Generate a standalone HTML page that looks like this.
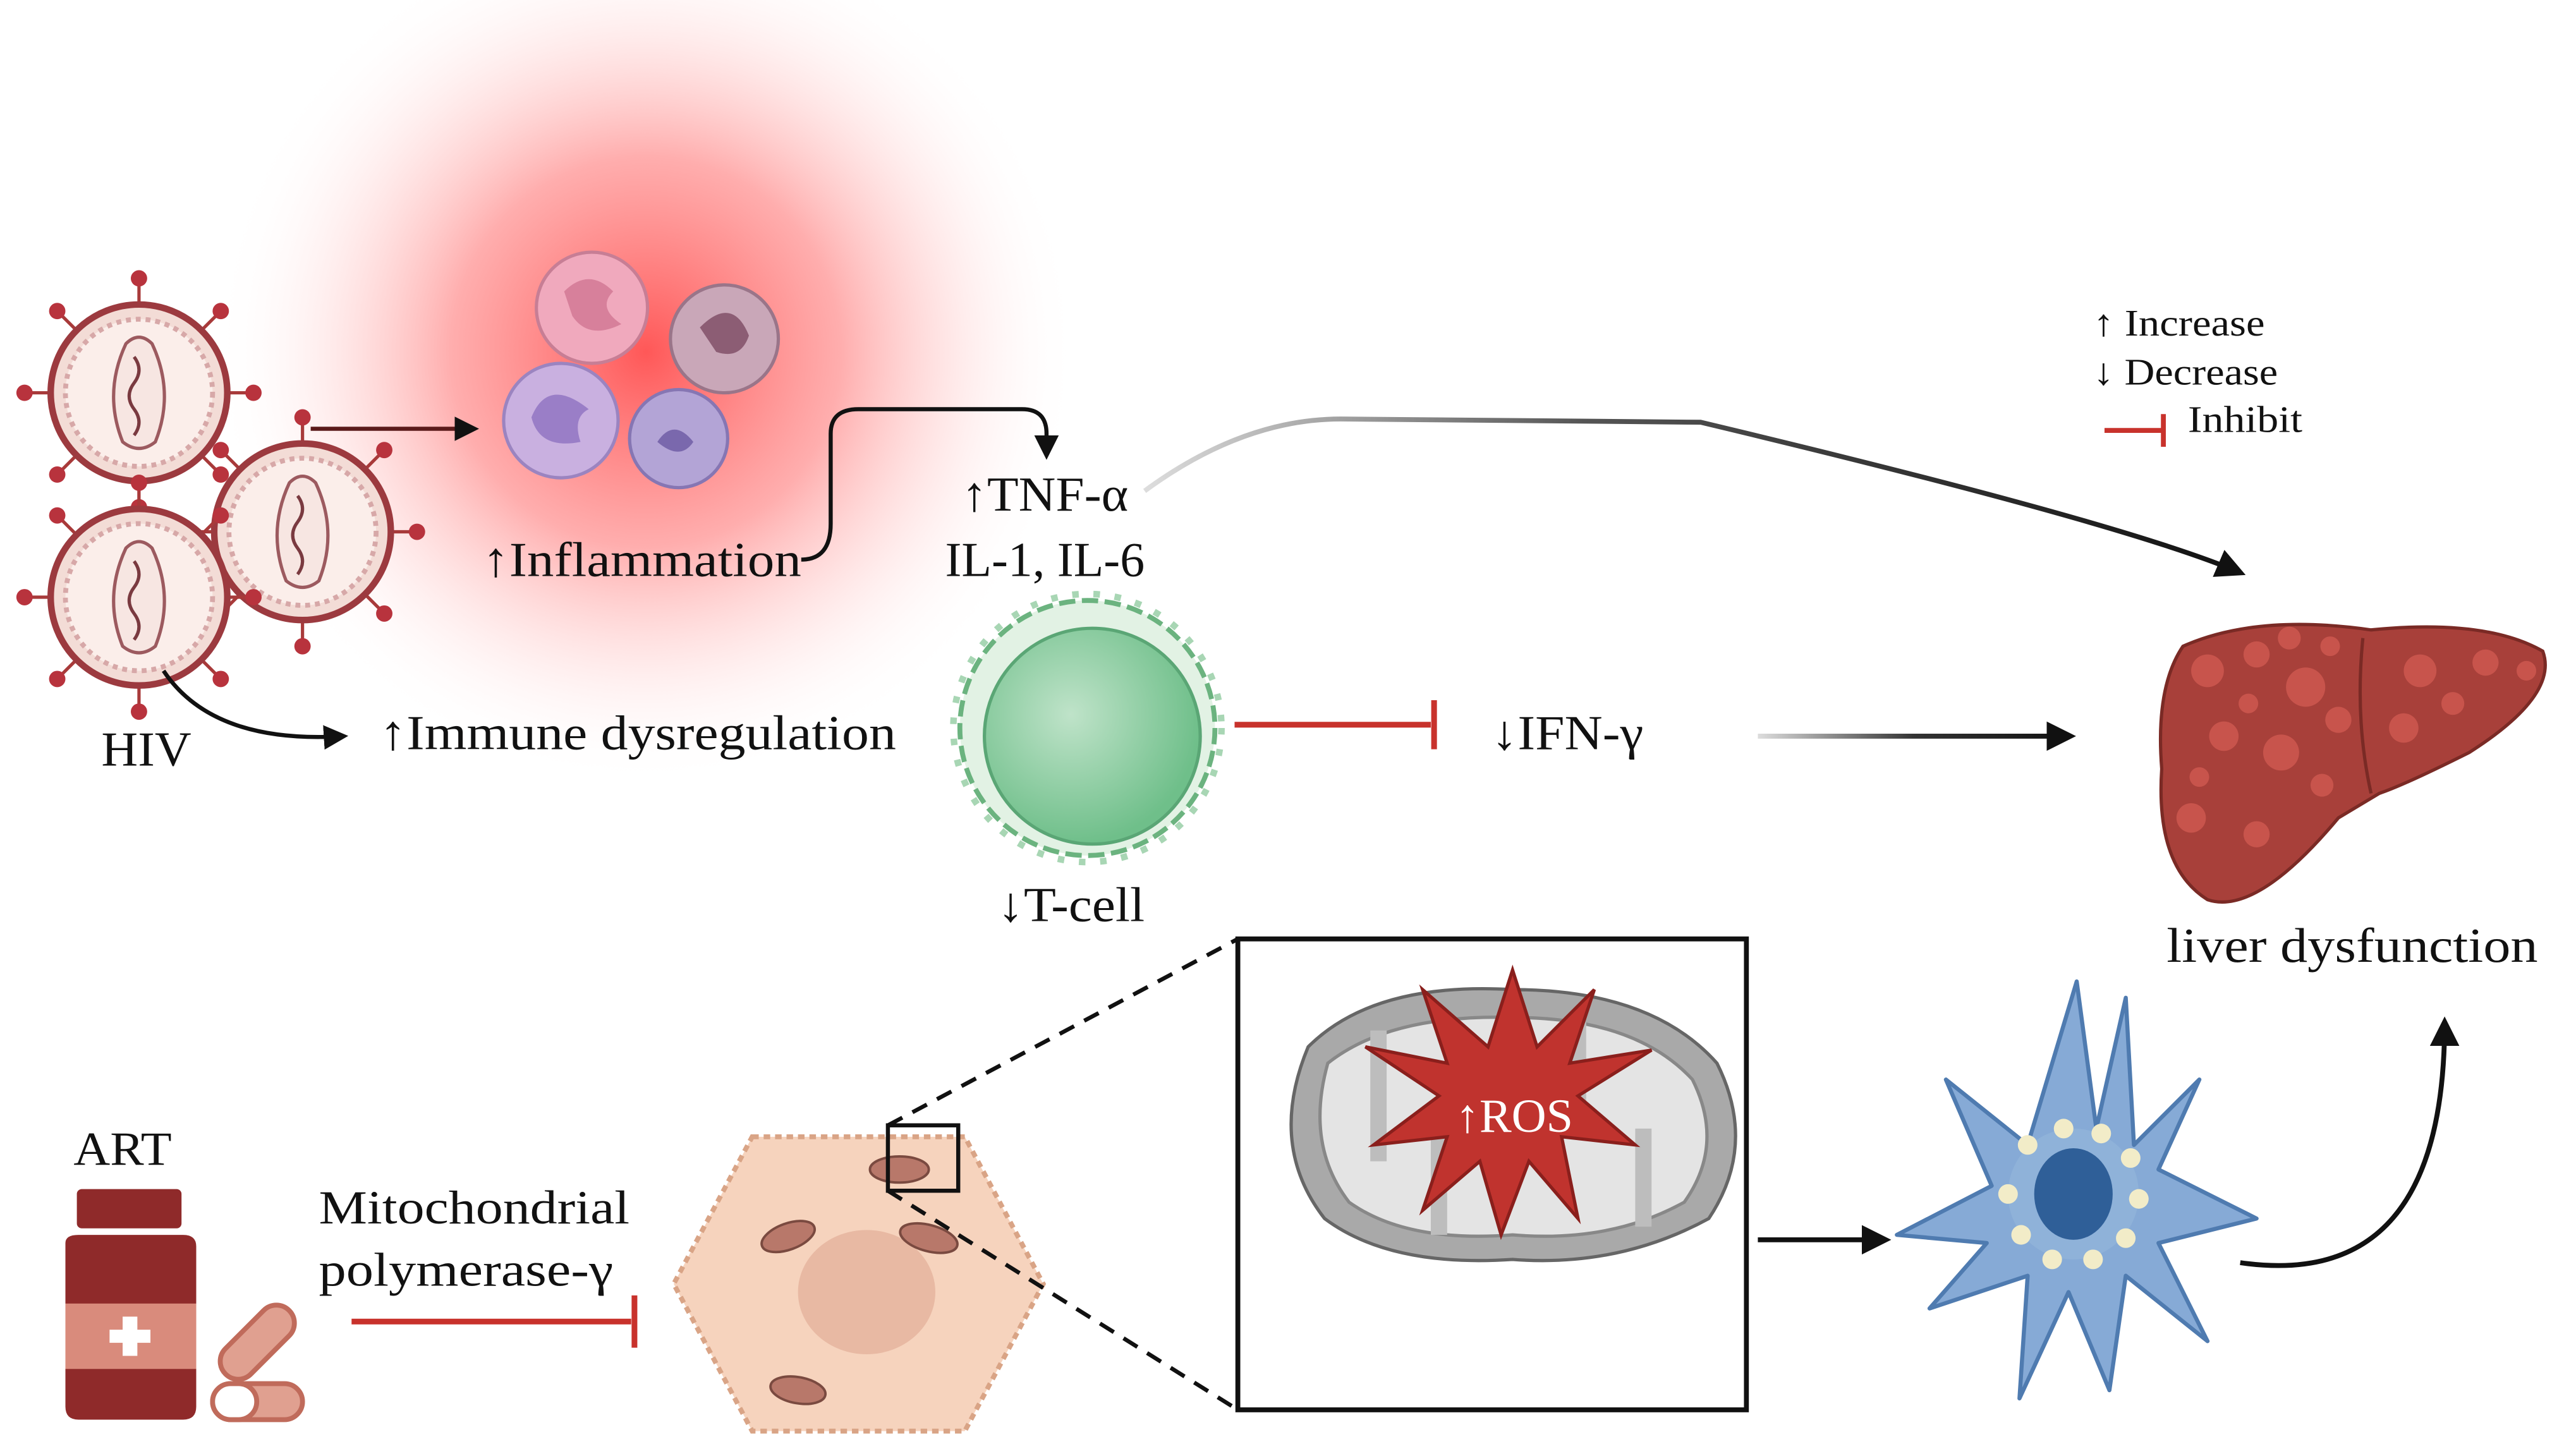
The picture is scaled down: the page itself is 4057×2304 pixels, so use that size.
<!DOCTYPE html>
<html><head><meta charset="utf-8"><style>
html,body{margin:0;padding:0;background:#fff;}
svg{display:block;}
text{font-family:"Liberation Serif",serif;fill:#111;}
</style></head><body>
<svg width="4057" height="2304" viewBox="0 0 1568 890" xmlns="http://www.w3.org/2000/svg">
<defs>
<radialGradient id="glow" cx="0.5" cy="0.5" r="0.5">
<stop offset="0" stop-color="#ff3a3a" stop-opacity="0.85"/>
<stop offset="0.45" stop-color="#ff6b6b" stop-opacity="0.55"/>
<stop offset="1" stop-color="#ffffff" stop-opacity="0"/>
</radialGradient>
<linearGradient id="g1" x1="0" x2="1" y1="0" y2="0">
<stop offset="0" stop-color="#ddd"/><stop offset="0.4" stop-color="#555"/><stop offset="1" stop-color="#111"/>
</linearGradient>
<linearGradient id="g2" gradientUnits="userSpaceOnUse" x1="1075" y1="0" x2="1266" y2="0"><stop offset="0" stop-color="#ddd"/><stop offset="0.5" stop-color="#333"/><stop offset="1" stop-color="#111"/></linearGradient>
<radialGradient id="tg" cx="0.4" cy="0.4" r="0.6"><stop offset="0" stop-color="#bfe3c9"/><stop offset="1" stop-color="#6fbf8a"/></radialGradient>
<marker id="ah" viewBox="0 0 10 10" refX="8" refY="5" markerWidth="6" markerHeight="6" orient="auto"><path d="M0,0 L10,5 L0,10 z" fill="#111"/></marker>
<g id="virus">
 <g stroke="#a83a3a" stroke-width="2">
  <line x1="0" y1="-52" x2="0" y2="-68"/><line x1="0" y1="52" x2="0" y2="68"/>
  <line x1="-52" y1="0" x2="-68" y2="0"/><line x1="52" y1="0" x2="68" y2="0"/>
  <line x1="37" y1="37" x2="48" y2="48"/><line x1="-37" y1="37" x2="-48" y2="48"/>
  <line x1="37" y1="-37" x2="48" y2="-48"/><line x1="-37" y1="-37" x2="-48" y2="-48"/>
 </g>
 <g fill="#b8333d">
  <circle cx="0" cy="-70" r="5"/><circle cx="0" cy="70" r="5"/><circle cx="-70" cy="0" r="5"/><circle cx="70" cy="0" r="5"/>
  <circle cx="50" cy="50" r="5"/><circle cx="-50" cy="50" r="5"/><circle cx="50" cy="-50" r="5"/><circle cx="-50" cy="-50" r="5"/>
 </g>
 <circle r="54" fill="#f3dcd6" stroke="#9c3a3f" stroke-width="4"/>
 <circle r="45" fill="#fbeeea" stroke="#d7a8a8" stroke-width="3" stroke-dasharray="3 3"/>
 <path d="M-8,-30 Q-22,0 -10,30 Q0,38 10,30 Q22,0 8,-30 Q0,-38 -8,-30z" fill="#f7e6e2" stroke="#9c5a5f" stroke-width="2"/>
 <path d="M-3,-22 q6,8 0,16 q-6,8 0,16 q6,8 0,16" fill="none" stroke="#7a3a40" stroke-width="2"/>
</g>
</defs>

<circle cx="395" cy="215" r="265" fill="url(#glow)"/>

<!-- inflammatory cells -->
<circle cx="362" cy="188" r="34" fill="#f0a9bd" stroke="#c77e95" stroke-width="2"/>
<path d="M345,178 q15,-15 30,0 q-10,10 5,20 q-20,10 -30,-5z" fill="#d7809b"/>
<circle cx="443" cy="207" r="33" fill="#c9a7b8" stroke="#9a7589" stroke-width="2"/>
<path d="M428,200 q20,-20 30,5 q-5,15 -20,10z" fill="#8c5d74"/>
<circle cx="343" cy="257" r="35" fill="#c9b0e0" stroke="#9b84c0" stroke-width="2"/>
<path d="M325,255 q10,-25 35,-5 q-10,5 -5,20 q-25,5 -30,-15z" fill="#9a7ec7"/>
<circle cx="415" cy="268" r="30" fill="#b3a4d6" stroke="#8676b3" stroke-width="2"/>
<path d="M402,270 q10,-15 22,0 q-8,12 -22,0z" fill="#7a68ad"/>

<!-- viruses -->
<use href="#virus" x="85" y="240"/>
<use href="#virus" x="185" y="325"/>
<use href="#virus" x="85" y="365"/>

<line x1="190" y1="262" x2="290" y2="262" stroke="#5a1a1a" stroke-width="2.5" marker-end="url(#ah)"/>
<path d="M100,410 Q130,455 210,450" fill="none" stroke="#111" stroke-width="2.5" marker-end="url(#ah)"/>

<text x="295" y="352" font-size="30" textLength="195" lengthAdjust="spacingAndGlyphs">↑Inflammation</text>
<path d="M490,342 Q508,342 508,320 L508,265 Q508,250 525,250 L625,250 Q640,250 640,265 L640,278" fill="none" stroke="#111" stroke-width="2.5" marker-end="url(#ah)"/>
<text x="588" y="312" font-size="30" textLength="102" lengthAdjust="spacingAndGlyphs">↑TNF-α</text>
<text x="578" y="352" font-size="30" textLength="122" lengthAdjust="spacingAndGlyphs">IL-1, IL-6</text>
<path d="M700,300 Q760,256 820,256 L1040,258 Q1300,320 1370,350" fill="none" stroke="url(#g1)" stroke-width="3" marker-end="url(#ah)"/>

<text x="1280" y="205" font-size="23" textLength="105" lengthAdjust="spacingAndGlyphs">↑ Increase</text>
<text x="1280" y="235" font-size="23" textLength="113" lengthAdjust="spacingAndGlyphs">↓ Decrease</text>
<line x1="1287" y1="263" x2="1322" y2="263" stroke="#c8322c" stroke-width="3"/>
<line x1="1323" y1="253" x2="1323" y2="273" stroke="#c8322c" stroke-width="3"/>
<text x="1338" y="264" font-size="23" textLength="70" lengthAdjust="spacingAndGlyphs">Inhibit</text>

<text x="62" y="468" font-size="30" textLength="55" lengthAdjust="spacingAndGlyphs">HIV</text>
<text x="232" y="458" font-size="30" textLength="316" lengthAdjust="spacingAndGlyphs">↑Immune dysregulation</text>

<!-- T cell -->
<circle cx="665" cy="445" r="78" fill="#e2f2e4" stroke="#6bb37f" stroke-width="3" stroke-dasharray="10 4"/>
<circle cx="665" cy="445" r="82" fill="none" stroke="#a8d6b4" stroke-width="4" stroke-dasharray="4 9"/>
<circle cx="668" cy="450" r="66" fill="url(#tg)" stroke="#5aa675" stroke-width="2"/>
<text x="610" y="563" font-size="30" textLength="90" lengthAdjust="spacingAndGlyphs">↓T-cell</text>
<line x1="755" y1="443" x2="875" y2="443" stroke="#c8322c" stroke-width="3.5"/>
<line x1="877" y1="428" x2="877" y2="458" stroke="#c8322c" stroke-width="3.5"/>
<text x="912" y="458" font-size="30" textLength="93" lengthAdjust="spacingAndGlyphs">↓IFN-γ</text>
<line x1="1075" y1="450" x2="1266" y2="450" stroke="url(#g2)" stroke-width="3" marker-end="url(#ah)"/>

<!-- liver -->
<path d="M1335,395 Q1380,375 1450,385 Q1520,378 1555,398 Q1565,425 1510,460 Q1470,480 1455,485 L1430,500 Q1380,560 1350,550 Q1318,530 1322,470 Q1318,420 1335,395z" fill="#a8403a" stroke="#7a2a25" stroke-width="2"/>
<path d="M1445,390 Q1440,440 1450,485" fill="none" stroke="#7a2a25" stroke-width="2"/>
<g fill="#c8544c">
<circle cx="1350" cy="410" r="10"/><circle cx="1380" cy="400" r="8"/><circle cx="1410" cy="420" r="12"/><circle cx="1360" cy="450" r="9"/>
<circle cx="1395" cy="460" r="11"/><circle cx="1430" cy="440" r="8"/><circle cx="1480" cy="410" r="10"/><circle cx="1520" cy="405" r="8"/>
<circle cx="1470" cy="445" r="9"/><circle cx="1340" cy="500" r="9"/><circle cx="1380" cy="510" r="8"/><circle cx="1420" cy="480" r="7"/><circle cx="1545" cy="410" r="6"/>
<circle cx="1400" cy="390" r="7"/><circle cx="1425" cy="395" r="6"/><circle cx="1375" cy="430" r="6"/><circle cx="1345" cy="475" r="6"/><circle cx="1500" cy="430" r="7"/>
</g>
<text x="1325" y="588" font-size="30" textLength="227" lengthAdjust="spacingAndGlyphs">liver dysfunction</text>

<!-- ART -->
<text x="45" y="712" font-size="29" textLength="60" lengthAdjust="spacingAndGlyphs">ART</text>
<rect x="47" y="727" width="64" height="24" rx="3" fill="#8f2a2a"/>
<path d="M40,760 Q40,755 48,755 L112,755 Q120,755 120,762 L120,860 Q120,868 112,868 L48,868 Q40,868 40,860z" fill="#8f2a2a"/>
<rect x="40" y="797" width="80" height="40" fill="#d98b7c"/>
<rect x="75" y="805" width="9" height="24" fill="#fff"/><rect x="67" y="813" width="25" height="8" fill="#fff"/>
<rect x="130" y="810" width="55" height="22" rx="11" transform="rotate(-45 157 821)" fill="#e0a090" stroke="#c06b5b" stroke-width="3"/>
<rect x="130" y="846" width="55" height="22" rx="11" fill="#e0a090" stroke="#c06b5b" stroke-width="3"/>
<rect x="130" y="846" width="27" height="22" rx="11" fill="#fff" stroke="#c06b5b" stroke-width="3"/>
<text x="195" y="748" font-size="29" textLength="190" lengthAdjust="spacingAndGlyphs">Mitochondrial</text>
<text x="195" y="786" font-size="29" textLength="180" lengthAdjust="spacingAndGlyphs">polymerase-γ</text>
<line x1="215" y1="808" x2="386" y2="808" stroke="#c8322c" stroke-width="3.5"/>
<line x1="388" y1="792" x2="388" y2="824" stroke="#c8322c" stroke-width="3.5"/>

<!-- hepatocyte -->
<path d="M460,695 L590,695 L638,785 L590,875 L460,875 L412,785z" fill="#f6d3bd" stroke="#d9a486" stroke-width="3" stroke-dasharray="4 3"/>
<ellipse cx="530" cy="790" rx="42" ry="38" fill="#e8b9a3"/>
<g fill="#b8786a" stroke="#7a4a40" stroke-width="1.5">
<ellipse cx="550" cy="715" rx="18" ry="8"/><ellipse cx="482" cy="756" rx="17" ry="8" transform="rotate(-20 482 756)"/>
<ellipse cx="568" cy="757" rx="18" ry="8" transform="rotate(15 568 757)"/><ellipse cx="488" cy="850" rx="17" ry="8" transform="rotate(10 488 850)"/>
</g>
<rect x="543" y="688" width="43" height="40" fill="none" stroke="#111" stroke-width="2.5"/>
<line x1="543" y1="688" x2="757" y2="574" stroke="#111" stroke-width="2.5" stroke-dasharray="10 7"/>
<line x1="543" y1="728" x2="757" y2="862" stroke="#111" stroke-width="2.5" stroke-dasharray="10 7"/>
<rect x="757" y="574" width="311" height="288" fill="#fff" stroke="#111" stroke-width="3"/>

<!-- mitochondria -->
<path d="M800,640 Q840,600 925,605 Q1010,605 1050,650 Q1075,700 1045,745 Q990,775 925,770 Q850,775 810,745 Q775,700 800,640z" fill="#a9a9a9" stroke="#666" stroke-width="2"/>
<path d="M812,650 Q850,620 925,622 Q1000,622 1035,660 Q1055,700 1030,735 Q985,760 925,755 Q860,760 825,735 Q798,700 812,650z" fill="#e4e4e4" stroke="#888" stroke-width="2"/>
<g fill="#bdbdbd"><rect x="838" y="630" width="10" height="80"/><rect x="875" y="690" width="10" height="65"/><rect x="960" y="625" width="10" height="70"/><rect x="1000" y="690" width="10" height="60"/></g>
<polygon points="925,593 940,640 975,605 960,650 1010,642 965,670 1000,700 955,695 965,745 935,710 918,755 905,710 870,740 885,695 840,700 880,670 835,640 885,650 870,605 910,640" fill="#c0332e" stroke="#8a1f1c" stroke-width="2"/>
<text x="890" y="692" font-size="29" textLength="72" lengthAdjust="spacingAndGlyphs" style="fill:#fff">↑ROS</text>

<line x1="1075" y1="758" x2="1153" y2="758" stroke="#111" stroke-width="3" marker-end="url(#ah)"/>

<!-- dendritic/kupffer cell -->
<path d="M1270,600 L1282,690 L1300,610 L1305,700 L1345,660 L1320,715 L1380,745 L1320,760 L1350,820 L1300,780 L1290,850 L1265,790 L1235,855 L1240,780 L1180,800 L1215,760 L1160,755 L1218,725 L1190,660 L1240,700 Z" fill="#86aad6" stroke="#4f7bb0" stroke-width="2.5" stroke-linejoin="round"/>
<circle cx="1268" cy="730" r="40" fill="#8fb2d9"/>
<ellipse cx="1268" cy="730" rx="24" ry="28" fill="#2f5f98"/>
<g fill="#f2ecc8">
<circle cx="1240" cy="700" r="6"/><circle cx="1262" cy="690" r="6"/><circle cx="1285" cy="693" r="6"/><circle cx="1303" cy="708" r="6"/>
<circle cx="1308" cy="733" r="6"/><circle cx="1300" cy="757" r="6"/><circle cx="1280" cy="770" r="6"/><circle cx="1255" cy="770" r="6"/>
<circle cx="1236" cy="755" r="6"/><circle cx="1228" cy="730" r="6"/>
</g>
<path d="M1370,772 Q1495,790 1495,625" fill="none" stroke="#111" stroke-width="3" marker-end="url(#ah)"/>
</svg>
</body></html>
